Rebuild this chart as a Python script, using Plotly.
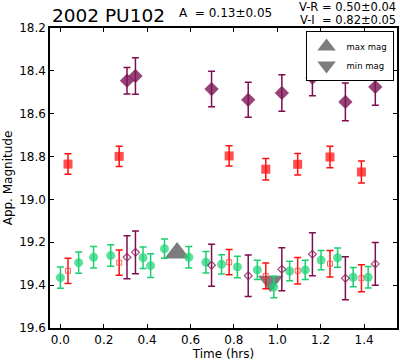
import plotly.graph_objects as go

# V-band (green circles)
v_time = [0.0, 0.084, 0.153, 0.232, 0.381, 0.416, 0.48, 0.592, 0.671, 0.743,
          0.816, 0.908, 0.984, 1.057, 1.129, 1.202, 1.278, 1.35, 1.419]
v_mag = [19.365, 19.295, 19.27, 19.262, 19.272, 19.309, 19.23, 19.27, 19.293, 19.303,
         19.315, 19.329, 19.409, 19.334, 19.329, 19.283, 19.272, 19.363, 19.363]
v_err = [0.05, 0.05, 0.05, 0.05, 0.05, 0.055, 0.045, 0.05, 0.05, 0.045,
         0.05, 0.045, 0.05, 0.045, 0.045, 0.045, 0.045, 0.045, 0.05]

# R-band (red squares) and R converted to V (open squares)
r_time = [0.035, 0.271, 0.778, 0.947, 1.094, 1.243, 1.388]
r_mag = [18.835, 18.799, 18.797, 18.859, 18.836, 18.802, 18.872]
r_err = [0.048, 0.047, 0.047, 0.05, 0.05, 0.05, 0.051]
rv_mag = [19.333, 19.295, 19.293, 19.357, 19.333, 19.3, 19.368]
rv_err = [0.059, 0.059, 0.059, 0.06, 0.062, 0.062, 0.063]

# I-band (purple diamonds) and I converted to V (open diamonds)
i_time = [0.307, 0.346, 0.697, 0.866, 1.021, 1.162, 1.314, 1.452]
i_mag = [18.446, 18.424, 18.485, 18.535, 18.503, 18.432, 18.545, 18.475]
i_err = [0.062, 0.085, 0.083, 0.082, 0.085, 0.084, 0.088, 0.086]
iv_mag = [19.27, 19.247, 19.307, 19.356, 19.326, 19.256, 19.368, 19.301]
iv_err = [0.1, 0.1, 0.098, 0.097, 0.1, 0.1, 0.1, 0.1]

# extremes
max_time = [0.538]
max_mag = [19.25]
min_time = [0.969]
min_mag = [19.382]

x_ticks = [0.0, 0.2, 0.4, 0.6, 0.8, 1.0, 1.2, 1.4]
y_ticks = [18.2, 18.4, 18.6, 18.8, 19.0, 19.2, 19.4, 19.6]

FONT = "DejaVu Sans"
PURPLE = "#7d0f4f"
GREEN = "#1ccf6e"
GRAY = "rgba(110,110,110,0.9)"

fig = go.Figure()

fig.add_trace(go.Scatter(
    x=max_time, y=max_mag, mode="markers", name="max mag",
    marker=dict(symbol="triangle-up", size=22, color=GRAY, line=dict(width=0))))
fig.add_trace(go.Scatter(
    x=min_time, y=min_mag, mode="markers", name="min mag",
    marker=dict(symbol="triangle-down", size=22, color=GRAY, line=dict(width=0))))

fig.add_trace(go.Scatter(
    x=v_time, y=v_mag, mode="markers", showlegend=False,
    error_y=dict(type="data", array=v_err, color=GREEN, thickness=1.5, width=3.5),
    marker=dict(symbol="circle", size=9, color="rgba(30,210,120,0.72)", line=dict(width=0))))

fig.add_trace(go.Scatter(
    x=r_time, y=rv_mag, mode="markers", showlegend=False,
    error_y=dict(type="data", array=rv_err, color="#ff1010", thickness=1.5, width=3.5),
    marker=dict(symbol="square-open", size=5, color="rgba(255,60,60,0.8)", line=dict(width=1))))

fig.add_trace(go.Scatter(
    x=i_time, y=iv_mag, mode="markers", showlegend=False,
    error_y=dict(type="data", array=iv_err, color=PURPLE, thickness=1.5, width=3.5),
    marker=dict(symbol="diamond-open", size=6, color="rgba(140,30,95,0.8)", line=dict(width=1.2))))

fig.add_trace(go.Scatter(
    x=r_time, y=r_mag, mode="markers", showlegend=False,
    error_y=dict(type="data", array=r_err, color="#ff1010", thickness=1.5, width=3.5),
    marker=dict(symbol="square", size=9, color="rgba(255,20,20,0.75)", line=dict(width=0))))

fig.add_trace(go.Scatter(
    x=i_time, y=i_mag, mode="markers", showlegend=False,
    error_y=dict(type="data", array=i_err, color=PURPLE, thickness=1.5, width=3.5),
    marker=dict(symbol="diamond", size=11, color="rgba(125,20,85,0.8)", line=dict(width=0))))

axis_common = dict(
    showgrid=False, zeroline=False, showline=True, linecolor="black", linewidth=1.5,
    mirror="ticks", ticks="inside", ticklen=4, tickwidth=1, tickcolor="black",
    tickfont=dict(family=FONT, size=12, color="black"), tickformat=".1f",
)

fig.update_layout(
    width=400, height=362,
    margin=dict(l=50, r=1, t=28, b=34),
    paper_bgcolor="white", plot_bgcolor="white",
    font=dict(family=FONT, color="black"),
    xaxis=dict(range=[-0.048, 1.552], tickvals=x_ticks,
               title=dict(text="Time (hrs)", font=dict(family=FONT, size=12), standoff=2),
               **axis_common),
    yaxis=dict(range=[19.6, 18.2], tickvals=y_ticks,
               title=dict(text="App. Magnitude", font=dict(family=FONT, size=12), standoff=4),
               **axis_common),
    legend=dict(x=0.99, y=0.99, xanchor="right", yanchor="top",
                bordercolor="black", borderwidth=1, bgcolor="white",
                font=dict(family=FONT, size=8.5), tracegroupgap=0,
                itemwidth=30),
    annotations=[
        dict(text="2002 PU102", xref="paper", yref="paper", x=0, y=1.0,
             xanchor="left", yanchor="bottom", showarrow=False, yshift=0,
             font=dict(family=FONT, size=18.5, color="black")),
        dict(text="A  = 0.13±0.05", xref="paper", yref="paper", x=0.367, y=1.0,
             xanchor="left", yanchor="bottom", showarrow=False, yshift=6,
             font=dict(family=FONT, size=12, color="black")),
        dict(text="V-R = 0.50±0.04", xref="paper", yref="paper", x=1.0, y=1.0,
             xanchor="right", yanchor="bottom", showarrow=False, yshift=13.2,
             borderpad=0, font=dict(family=FONT, size=11.5, color="black")),
        dict(text="V-I  = 0.82±0.05", xref="paper", yref="paper", x=1.0, y=1.0,
             xanchor="right", yanchor="bottom", showarrow=False, yshift=0,
             borderpad=0, font=dict(family=FONT, size=11.5, color="black")),
    ],
)

fig.write_html("out.html", config={"displayModeBar": False},
               post_script="document.body.style.margin='0';")
